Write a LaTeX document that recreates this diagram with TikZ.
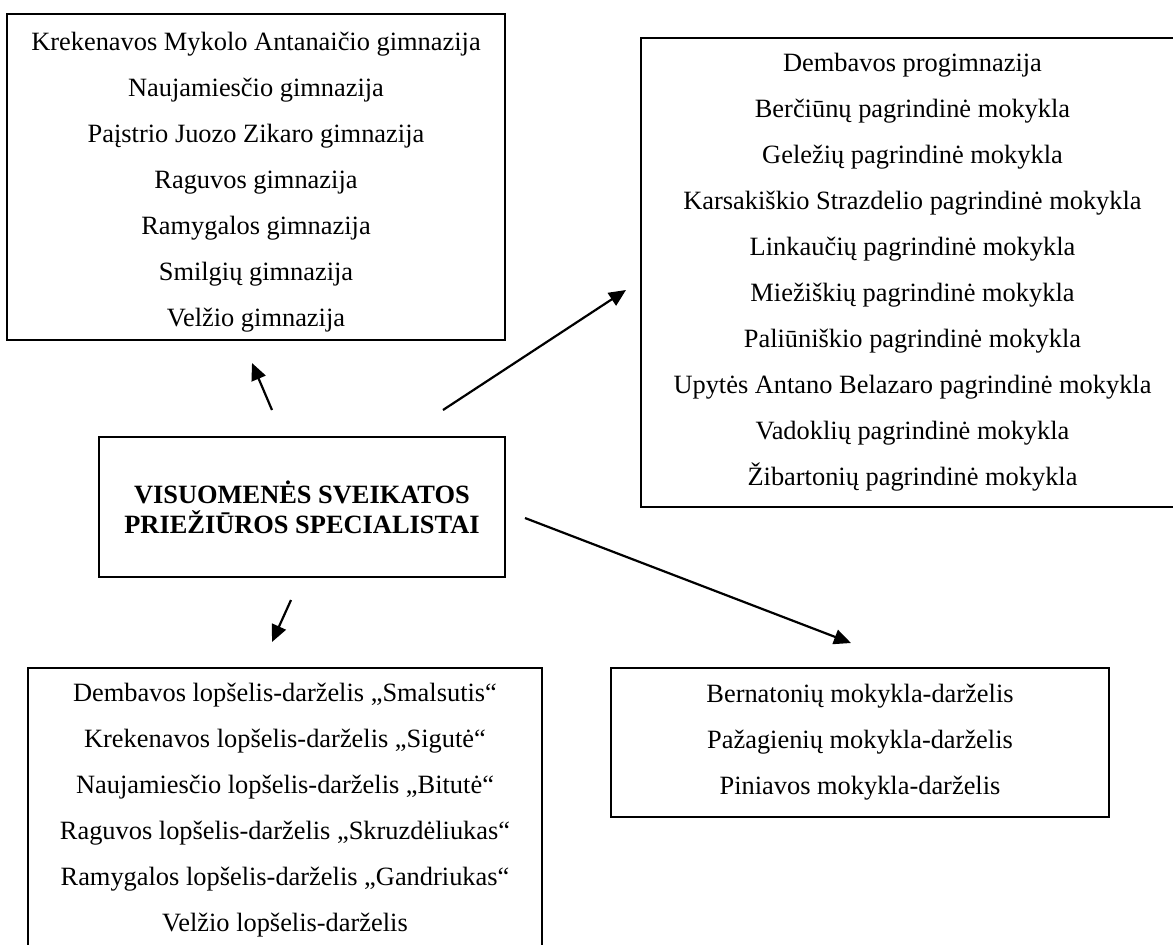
\documentclass[tikz,border=0pt]{standalone}
\usepackage{fontspec}
\setmainfont{Liberation Serif}
\usetikzlibrary{arrows.meta}

\begin{document}
\begin{tikzpicture}[x=0.5pt,y=-0.5pt,
		box/.style={draw,line width=0.85pt,align=center,inner sep=0pt,font=\fontsize{13.2}{23}\selectfont},
		arr/.style={line width=1.1pt,-{Triangle[length=8.5pt,width=7.5pt]}}]
	\useasboundingbox (0,0) rectangle (1173,944);
	\node[box,minimum width=249pt,minimum height=163pt] (gimn) at (256,177) {\rule{0pt}{14pt}Krekenavos Mykolo Antanaičio gimnazija\\ Naujamiesčio gimnazija\\ Paįstrio Juozo Zikaro gimnazija\\ Raguvos gimnazija\\ Ramygalos gimnazija\\ Smilgių gimnazija\\ Velžio gimnazija};
	\node[box,minimum width=271.5pt,minimum height=234.5pt] (pagr) at (912.5,272.5) {Dembavos progimnazija\\ Berčiūnų pagrindinė mokykla\\ Geležių pagrindinė mokykla\\ Karsakiškio Strazdelio pagrindinė mokykla\\ Linkaučių pagrindinė mokykla\\ Miežiškių pagrindinė mokykla\\ Paliūniškio pagrindinė mokykla\\ Upytės Antano Belazaro pagrindinė mokykla\\ Vadoklių pagrindinė mokykla\\ Žibartonių pagrindinė mokykla};
	\node[box,minimum width=203pt,minimum height=70pt,font=\fontsize{13.2}{15}\selectfont\bfseries] (spec) at (302,507) {VISUOMENĖS SVEIKATOS\\ PRIEŽIŪROS SPECIALISTAI};
	\node[box,minimum width=257.25pt,minimum height=142.5pt] (lops) at (285,810.5) {Dembavos lopšelis-darželis „Smalsutis“\\ Krekenavos lopšelis-darželis „Sigutė“\\ Naujamiesčio lopšelis-darželis „Bitutė“\\ Raguvos lopšelis-darželis „Skruzdėliukas“\\ Ramygalos lopšelis-darželis „Gandriukas“\\ Velžio lopšelis-darželis};
	\node[box,minimum width=249pt,minimum height=74.5pt] (mokd) at (860,742.5) {Bernatonių mokykla-darželis\\ Pažagienių mokykla-darželis\\ Piniavos mokykla-darželis};
	\coordinate (gimn-s) at (272,410); \coordinate (gimn-t) at (252,363);
	\coordinate (pagr-s) at (443,410); \coordinate (pagr-t) at (626,290);
	\coordinate (lops-s) at (291,600); \coordinate (lops-t) at (272,642);
	\coordinate (mokd-s) at (525,518); \coordinate (mokd-t) at (851,643);
	\draw[arr] (gimn-s) -- (gimn-t);
	\draw[arr] (pagr-s) -- (pagr-t);
	\draw[arr] (lops-s) -- (lops-t);
	\draw[arr] (mokd-s) -- (mokd-t);
\end{tikzpicture}
\end{document}
